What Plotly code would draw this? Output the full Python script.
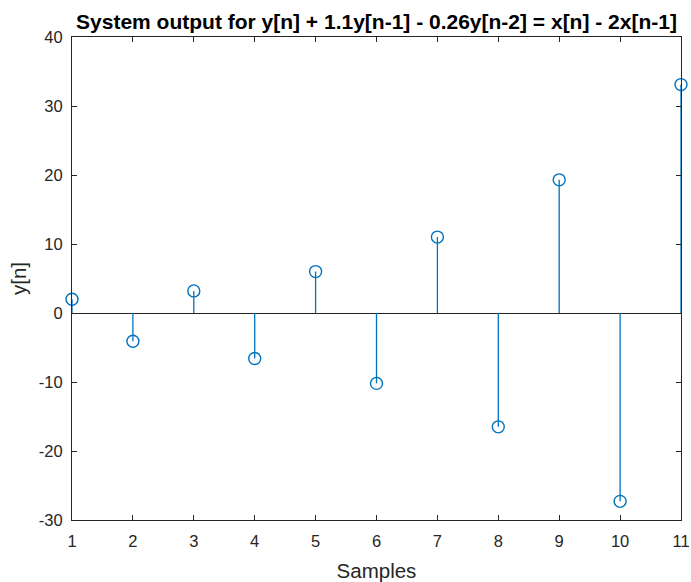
import plotly.graph_objects as go

samples = [1, 2, 3, 4, 5, 6, 7, 8, 9, 10, 11]
y_values = [2.0, -4.1, 3.2, -6.6, 6.0, -10.2, 11.0, -16.5, 19.3, -27.3, 33.1]
x_ticks = [1, 2, 3, 4, 5, 6, 7, 8, 9, 10, 11]
y_ticks = [-30, -20, -10, 0, 10, 20, 30, 40]
y_tick_labels = ["-30", "-20", "-10", "0", "10", "20", "30", "40"]

stem_color = "#0072BD"
axis_color = "#262626"

W, H = 691, 582
L, R, T, B = 72, 10, 37, 62

stem_x, stem_y = [], []
for xv, yv in zip(samples, y_values):
    stem_x += [xv, xv, None]
    stem_y += [0, yv, None]

fig = go.Figure()
fig.add_trace(go.Scatter(x=stem_x, y=stem_y, mode="lines",
                         line=dict(color=stem_color, width=1.3),
                         hoverinfo="skip", showlegend=False, cliponaxis=False))
fig.add_trace(go.Scatter(x=samples, y=y_values, mode="markers",
                         marker=dict(symbol="circle-open", size=12,
                                     color=stem_color, line=dict(width=1.4, color=stem_color)),
                         showlegend=False, cliponaxis=False))

fig.update_layout(
    width=W, height=H,
    margin=dict(l=L, r=R, t=T, b=B, autoexpand=False),
    paper_bgcolor="white", plot_bgcolor="white",
    font=dict(family="Liberation Sans, Arial, sans-serif", color=axis_color, size=16.5),
    title=dict(text="<b>System output for y[n] + 1.1y[n-1] - 0.26y[n-2] = x[n] - 2x[n-1]</b>",
               x=(L + (W - R)) / 2 / W, xanchor="center", y=1 - 21.5 / H, yanchor="middle",
               font=dict(size=21, color="#000000")),
    xaxis=dict(range=[1, 11], tickvals=x_ticks, ticks="inside", ticklen=5,
               tickcolor=axis_color, showline=True, linecolor=axis_color, linewidth=1,
               mirror="ticks", showgrid=False, zeroline=False, ticklabelstandoff=6,
               automargin=False,
               title=dict(text="Samples", font=dict(size=20.5), standoff=14),
               tickfont=dict(size=16.5)),
    yaxis=dict(range=[-30, 40], tickvals=y_ticks, ticktext=y_tick_labels,
               ticks="inside", ticklen=5,
               tickcolor=axis_color, showline=True, linecolor=axis_color, linewidth=1,
               mirror="ticks", showgrid=False, zeroline=True, zerolinecolor=axis_color,
               zerolinewidth=1, ticklabelstandoff=5, automargin=False,
               title=dict(text="y[n]", font=dict(size=20.5), standoff=6),
               tickfont=dict(size=16.5)),
)

fig.write_html("out.html", config={"displayModeBar": False},
               post_script="document.body.style.margin='0';document.body.style.overflow='hidden';")
